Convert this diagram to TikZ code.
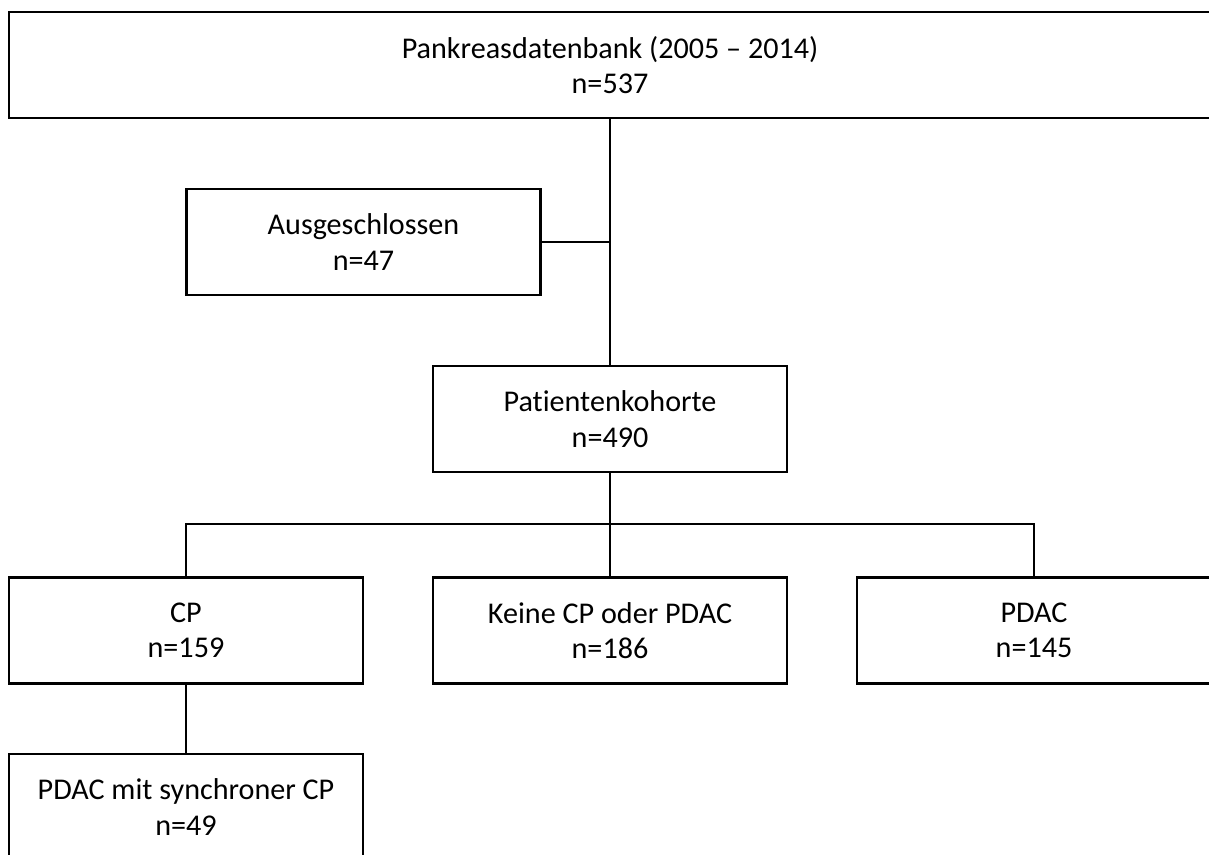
\documentclass[tikz,border=0pt]{standalone}
\usepackage{fontspec}
\setmainfont[Ligatures={TeX,NoCommon}]{Carlito}
\begin{document}
\begin{tikzpicture}[x=0.75pt,y=-0.75pt,line width=1.6pt]
\tikzset{box/.style={draw,black,inner sep=0pt,align=center,minimum width=265.5pt,minimum height=79.5pt,font=\fontsize{22.6}{26.5}\selectfont}}
\useasboundingbox (0,0) rectangle (1209,855);
\node [box,minimum width=901.5pt] (top) at (610,65) {Pankreasdatenbank (2005 -- 2014)\\n=537};
\node [box] (excl) at (363.5,242) {Ausgeschlossen\\n=47};
\node [box] (cohort) at (610,419) {Patientenkohorte\\n=490};
\node [box] (cp) at (186,630.5) {CP\\n=159};
\node [box] (none) at (610,630.5) {Keine CP oder PDAC\\n=186};
\node [box] (pdac) at (1034,630.5) {PDAC\\n=145};
\node [box] (sync) at (186,807) {PDAC mit synchroner CP\\n=49};
\coordinate (split) at (610,524);
\draw (top.south) -- (cohort.north);
\draw (excl.east) -- (excl.east -| cohort.north);
\draw (cohort.south) -- (split) -- (none.north);
\draw (cp.north) |- (split) -| (pdac.north);
\draw (cp.south) -- (sync.north);
\end{tikzpicture}
\end{document}
